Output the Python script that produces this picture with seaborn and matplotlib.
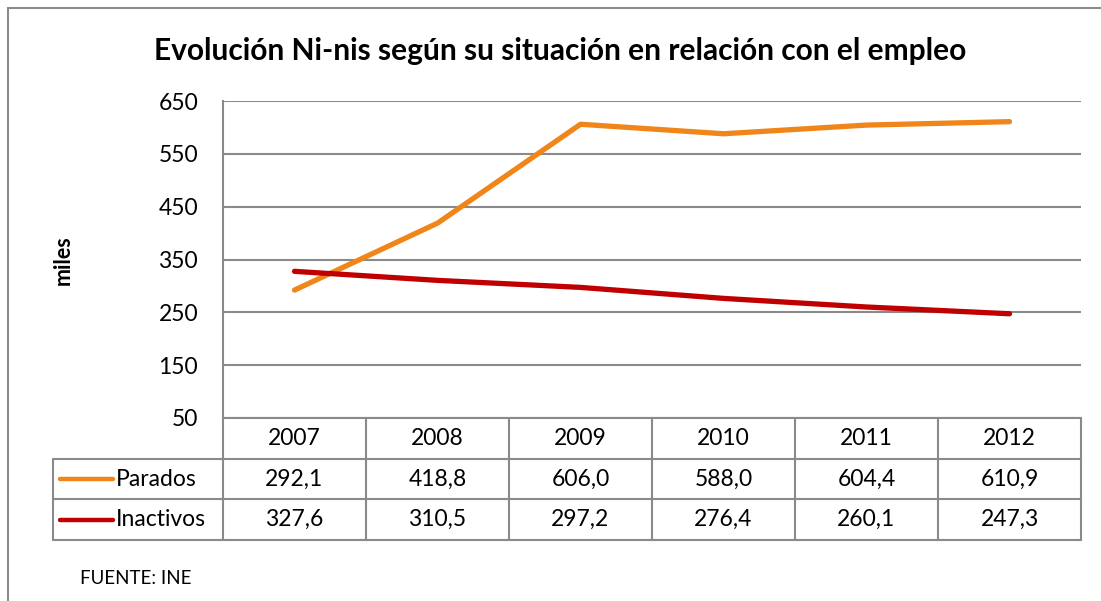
import pandas as pd
import numpy as np
import matplotlib.pyplot as plt
import seaborn as sns
from matplotlib.patches import Rectangle

# data
years = [2007, 2008, 2009, 2010, 2011, 2012]
parados = [292.1, 418.8, 606.0, 588.0, 604.4, 610.9]
inactivos = [327.6, 310.5, 297.2, 276.4, 260.1, 247.3]
series_names = ['Parados', 'Inactivos']
colors = ['#F0851A', '#C00000']
yticks = [50, 150, 250, 350, 450, 550, 650]

df = pd.DataFrame({
    'year': years * 2,
    'value': parados + inactivos,
    'serie': ['Parados'] * 6 + ['Inactivos'] * 6,
})

sns.set_style('white')
plt.rcParams['font.family'] = ['Lato', 'DejaVu Sans']
plt.rcParams['text.color'] = 'black'
plt.rcParams['ytick.color'] = 'black'
plt.rcParams['axes.labelcolor'] = 'black'

W, H = 1101, 601
fig = plt.figure(figsize=(W / 100, H / 100), dpi=100)


def fx(px):
    return px / W


def fy(py):
    return 1 - py / H


# outer border of the chart object
fig.patches.append(Rectangle((fx(8), fy(640)), fx(1200), fy(8) - fy(640),
                             transform=fig.transFigure, fill=False,
                             edgecolor='#8c8c8c', linewidth=1.5))

# --------------------------------------------------
# plot area
# --------------------------------------------------
left, right, top, bottom = 223, 1081, 101, 418
ax = fig.add_axes([fx(left), fy(bottom), fx(right - left), fy(top) - fy(bottom)])
sns.lineplot(data=df, x='year', y='value', hue='serie', palette=colors,
             linewidth=3.8, ax=ax, legend=False)
ax.set_xlim(2006.5, 2012.5)
ax.set_ylim(50, 650)
ax.set_yticks(yticks)
ax.set_yticklabels([str(t) for t in yticks], fontsize=16.5)
ax.tick_params(axis='y', length=0, pad=18, labelcolor='black')
ax.set_xticks([])
ax.set_xlabel('')
ax.set_ylabel('')
ax.grid(axis='y', color='#8a8a8a', linewidth=1.5)
ax.set_axisbelow(True)
for s in ['top', 'right', 'bottom']:
    ax.spines[s].set_visible(False)
ax.spines['left'].set_color('#8a8a8a')
ax.spines['left'].set_linewidth(1.5)

fig.text(fx(560), fy(51), 'Evolución Ni-nis según su situación en relación con el empleo',
         ha='center', va='center', fontsize=21.5, fontweight='bold', color='black')
fig.text(fx(63), fy(260), 'miles', rotation=90, ha='center', va='center',
         fontsize=15.5, fontweight='bold', color='black')
fig.text(fx(80), fy(578), 'FUENTE: INE', ha='left', va='center', fontsize=13.5, color='black')

# --------------------------------------------------
# data table
# --------------------------------------------------
tleft, tbottom = 53, 540
col_w = (right - left) / 6
x0 = 2006.5 - (left - tleft) / col_w
tax = fig.add_axes([fx(tleft), fy(tbottom), fx(right - tleft), fy(bottom) - fy(tbottom)])
tax.set_xlim(x0, 2012.5)
tax.set_ylim(3, 0)
tax.axis('off')

lc = '#8a8a8a'
lw = 1.5
# horizontal lines
tax.plot([2006.5, 2012.5], [0, 0], color=lc, lw=lw, clip_on=False)
for yy in [1, 2, 3]:
    tax.plot([x0, 2012.5], [yy, yy], color=lc, lw=lw, clip_on=False)
# vertical lines
for i in range(7):
    xx = 2006.5 + i
    tax.plot([xx, xx], [0, 3], color=lc, lw=lw, clip_on=False)
tax.plot([x0, x0], [1, 3], color=lc, lw=lw, clip_on=False)

for y, yr in zip(years, years):
    tax.text(y, 0.5, str(yr), ha='center', va='center', fontsize=16.5, color='black')

for r, (name, vals, c) in enumerate(zip(series_names, [parados, inactivos], colors)):
    row = r + 1.5
    tax.plot([x0 + 0.05, x0 + 0.42], [row, row], color=c, lw=3.2,
             solid_capstyle='round', clip_on=False)
    tax.text(x0 + 0.44, row, name, ha='left', va='center', fontsize=16.5, color='black')
    for y, v in zip(years, vals):
        tax.text(y, row, f'{v:.1f}'.replace('.', ','), ha='center', va='center',
                 fontsize=16.5, color='black')

plt.savefig('out.png', dpi=100)
